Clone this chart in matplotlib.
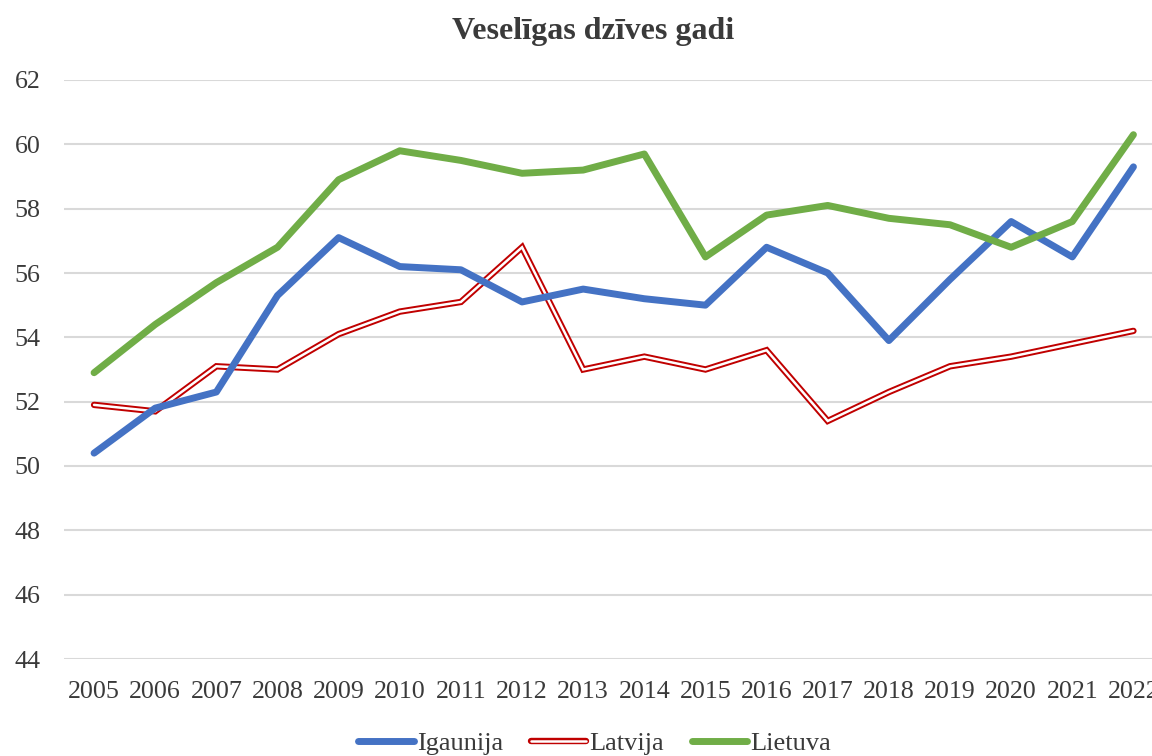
import numpy as np
from matplotlib import pyplot as plt

# Data
years = [str(y) for y in range(2005, 2023)]
igaunija = [50.4, 51.8, 52.3, 55.3, 57.1, 56.2, 56.1, 55.1, 55.5, 55.2,
            55.0, 56.8, 56.0, 53.9, 55.8, 57.6, 56.5, 59.3]
latvija = [51.9, 51.7, 53.1, 53.0, 54.1, 54.8, 55.1, 56.8, 53.0, 53.4,
           53.0, 53.6, 51.4, 52.3, 53.1, 53.4, 53.8, 54.2]
lietuva = [52.9, 54.4, 55.7, 56.8, 58.9, 59.8, 59.5, 59.1, 59.2, 59.7,
           56.5, 57.8, 58.1, 57.7, 57.5, 56.8, 57.6, 60.3]
y_ticks = list(range(44, 63, 2))

plt.rcParams['font.family'] = ['Liberation Serif', 'DejaVu Serif']
text_color = '#3a3a3a'

fig = plt.figure(figsize=(11.52, 7.56), dpi=100)
ax = fig.add_axes([63.5 / 1152, 1 - 659 / 756, (1164 - 63.5) / 1152, (659 - 80) / 756])

x = np.arange(len(years))

# Gridlines
for v in y_ticks:
    ax.axhline(v, color='#D9D9D9', lw=1.5, zorder=0)

blue, = ax.plot(x, igaunija, color='#4472C4', lw=5, solid_capstyle='round',
                solid_joinstyle='round', zorder=3)
# Latvija is drawn as a double line: red outline with white core
red_outer, = ax.plot(x, latvija, color='#C00000', lw=4.6, solid_capstyle='round',
                     solid_joinstyle='miter', zorder=2)
red_inner, = ax.plot(x, latvija, color='white', lw=1.8, solid_capstyle='round',
                     solid_joinstyle='miter', zorder=2)
green, = ax.plot(x, lietuva, color='#70AD47', lw=5, solid_capstyle='round',
                 solid_joinstyle='round', zorder=3)

ax.set_xlim(-0.5, len(years) - 0.5)
ax.set_ylim(44, 62)
ax.set_xticks(x)
ax.set_xticklabels(years)
ax.set_yticks(y_ticks)
ax.tick_params(axis='both', length=0, labelsize=18.7, labelcolor=text_color)
ax.tick_params(axis='x', pad=16)
ax.tick_params(axis='y', pad=16.5)
for s in ax.spines.values():
    s.set_visible(False)

fig.text(593 / 1152, 1 - 31 / 756, 'Veselīgas dzīves gadi', ha='center', va='center',
         fontsize=23, fontweight='bold', color=text_color)

fig.legend([blue, (red_outer, red_inner), green], ['Igaunija', 'Latvija', 'Lietuva'],
           loc='center', bbox_to_anchor=(594.5 / 1152, 1 - 743 / 756), ncol=3,
           frameon=False, fontsize=19, labelcolor=text_color, handlelength=2.1,
           handletextpad=0.12, columnspacing=1.05)

fig.savefig('out.png', dpi=100)
